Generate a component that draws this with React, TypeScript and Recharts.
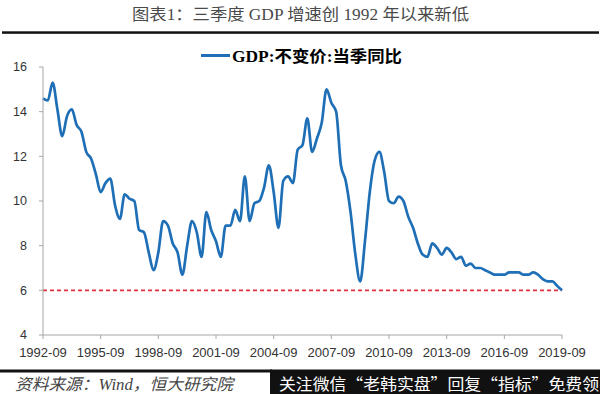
import { LineChart, Line, XAxis, YAxis, ReferenceLine, Legend } from "recharts";

// GDP:不变价:当季同比 (%), quarterly, 1992-09 .. 2019-09
const START_YEAR = 1992;
const START_QUARTER = 3;
const GDP_YOY = [
  14.6, 14.5, 15.3, 14.1, 12.9, 13.8, 14.1, 13.4, 13.1, 12.2,
  11.9, 11.2, 10.4, 10.8, 11.0, 9.8, 9.2, 10.3, 10.1, 10.0,
  8.7, 8.6, 7.7, 6.9, 7.7, 9.1, 8.9, 8.1, 7.7, 6.7,
  8.0, 9.1, 8.6, 7.5, 9.5, 8.7, 8.2, 7.5, 8.9, 8.9,
  9.6, 9.1, 11.1, 9.1, 9.9, 10.0, 10.6, 11.6, 10.4, 8.8,
  10.9, 11.1, 10.8, 12.3, 12.5, 13.7, 12.2, 12.8, 13.5, 15.0,
  14.4, 14.0, 11.6, 10.9, 9.5, 7.6, 6.4, 8.2, 10.4, 11.8,
  12.2, 11.3, 10.0, 9.9, 10.2, 10.0, 9.3, 8.8, 8.1, 7.6,
  7.5, 8.1, 7.9, 7.6, 7.9, 7.7, 7.4, 7.5, 7.1, 7.2,
  7.0, 7.0, 6.9, 6.8, 6.7, 6.7, 6.7, 6.8, 6.8, 6.8,
  6.7, 6.7, 6.8, 6.7, 6.5, 6.4, 6.4, 6.2, 6.0,
];
const Y_TICKS = [4, 6, 8, 10, 12, 14, 16];
const FLOOR_LINE = 6;

const TITLE = "图表1：三季度 GDP 增速创 1992 年以来新低";
const SERIES_NAME = "GDP:不变价:当季同比";
const SOURCE = "资料来源：Wind，恒大研究院";
const BANNER = "关注微信“老韩实盘”回复“指标”免费领";

const BLUE = "#1f6fb6";

const quarterLabel = (i: number) => {
  const q = START_QUARTER - 1 + i;
  const year = START_YEAR + Math.floor(q / 4);
  const month = (q % 4) * 3 + 3;
  return `${year}-${String(month).padStart(2, "0")}`;
};

const data = GDP_YOY.map((v, i) => ({ date: quarterLabel(i), gdp: v }));

function LegendBox() {
  return (
    <svg width={600} height={24} style={{ display: "block" }}>
      <line x1={201} x2={230} y1={11.5} y2={11.5} stroke={BLUE} strokeWidth={3} />
      <text
        x={232}
        y={17.5}
        fontSize={16}
        fontWeight="bold"
        fill="#000"
        fontFamily="'Liberation Serif', 'Noto Sans CJK SC', serif"
        textLength={170}
        lengthAdjust="spacingAndGlyphs"
      >
        {SERIES_NAME}
      </text>
    </svg>
  );
}

export default function App() {
  const axisColor = "#a6a6a6";
  const tickFont = { fontFamily: "'Liberation Sans', Arial, sans-serif", fill: "#333" };
  return (
    <div
      style={{
        position: "absolute",
        left: 0,
        top: 0,
        width: 600,
        height: 394,
        background: "#fff",
        overflow: "hidden",
      }}
    >
      <LineChart
        width={600}
        height={394}
        data={data}
        margin={{ top: 67, right: 38, left: 0, bottom: 29 }}
      >
        {/* middle alignment keeps the legend out of the plot offset */}
        <Legend
          verticalAlign="middle"
          align="center"
          content={() => <LegendBox />}
          wrapperStyle={{ position: "absolute", top: 44, left: 0, width: 600 }}
        />
        <XAxis
          dataKey="date"
          interval={11}
          height={30}
          stroke={axisColor}
          tickSize={4}
          tickMargin={9}
          tick={{ ...tickFont, fontSize: 13 }}
        />
        <YAxis
          width={43}
          domain={[4, 16]}
          ticks={Y_TICKS}
          interval={0}
          stroke={axisColor}
          tickSize={4}
          tickMargin={12}
          tick={{ ...tickFont, fontSize: 12.5 }}
        />
        <ReferenceLine
          y={FLOOR_LINE}
          stroke="#e2333c"
          strokeWidth={1.7}
          strokeDasharray="4 3"
        />
        <Line
          type="monotone"
          dataKey="gdp"
          name={SERIES_NAME}
          stroke={BLUE}
          strokeWidth={2.7}
          dot={false}
          isAnimationActive={false}
        />
      </LineChart>

      <svg
        width={600}
        height={394}
        style={{ position: "absolute", left: 0, top: 0, pointerEvents: "none" }}
      >
        <text
          x={132}
          y={20}
          fontSize={16}
          fill="#4a4a4a"
          fontFamily="'Liberation Serif', 'Noto Sans CJK SC', serif"
          textLength={337}
          lengthAdjust="spacingAndGlyphs"
        >
          {TITLE}
        </text>
        <rect x={2} y={31.3} width={597} height={2.5} fill="#111" />

        <rect x={0} y={369.5} width={272} height={3} fill="#111" />
        <rect x={270} y={369.5} width={330} height={25} fill="#111" />
        <text
          x={15}
          y={390}
          fontSize={16}
          fontStyle="italic"
          fill="#444"
          fontFamily="'Liberation Serif', 'Noto Sans CJK SC', serif"
          textLength={218}
          lengthAdjust="spacingAndGlyphs"
        >
          {SOURCE}
        </text>
        <text
          x={279}
          y={390}
          fontSize={16}
          fill="#fff"
          fontFamily="'Noto Sans CJK SC', sans-serif"
          textLength={320}
          lengthAdjust="spacingAndGlyphs"
        >
          {BANNER}
        </text>
      </svg>
    </div>
  );
}
